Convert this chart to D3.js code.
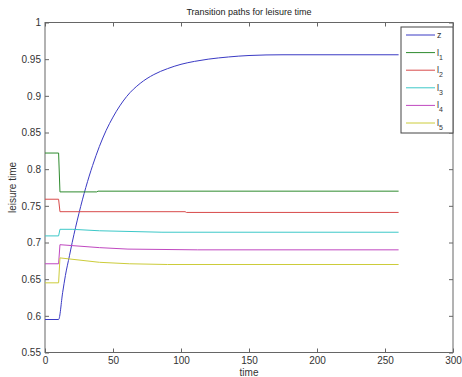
<!DOCTYPE html>
<html>
<head>
<meta charset="utf-8">
<script src="https://cdn.jsdelivr.net/npm/d3@7"></script>
<style>
  body { margin: 0; background: #fff; }
  text { font-family: "Liberation Sans", Arial, sans-serif; }
</style>
</head>
<body>
<svg id="chart" width="462" height="377"></svg>
<script>
// values
var zTime  = [0, 10, 13, 15, 18, 20, 25, 30, 35, 40, 45, 50, 60, 70, 80, 90, 100, 110, 120, 135, 150, 175, 200, 260];
var zValue = [0.595, 0.595, 0.632, 0.655, 0.682, 0.700, 0.740, 0.775, 0.805, 0.831, 0.853, 0.871, 0.899, 0.917, 0.929, 0.937, 0.943, 0.947, 0.950, 0.953, 0.955, 0.956, 0.956, 0.956];

var l1Time  = [0, 10, 11, 38, 39, 260];
var l1Value = [0.822, 0.822, 0.769, 0.769, 0.770, 0.770];
var l2Time  = [0, 10, 11, 103, 104, 260];
var l2Value = [0.759, 0.759, 0.742, 0.742, 0.741, 0.741];
var l3Time  = [0, 10, 11, 20, 40, 86, 260];
var l3Value = [0.709, 0.709, 0.718, 0.718, 0.716, 0.714, 0.714];
var l4Time  = [0, 10, 11, 40, 61, 112, 260];
var l4Value = [0.671, 0.671, 0.697, 0.693, 0.691, 0.690, 0.690];
var l5Time  = [0, 10, 11, 40, 62, 90, 260];
var l5Value = [0.645, 0.645, 0.679, 0.673, 0.671, 0.670, 0.670];

var seriesNames = ["z", "l1", "l2", "l3", "l4", "l5"];
var seriesColors = ["#3a3ac4", "#2e8b2e", "#d84a4a", "#3cc8c8", "#c048c0", "#cccc3a"];
var xTicks = [0, 50, 100, 150, 200, 250, 300];
var yTicks = [0.55, 0.6, 0.65, 0.7, 0.75, 0.8, 0.85, 0.9, 0.95, 1];

(function() {
  var plotLeft = 45, plotRight = 453, plotTop = 22.5, plotBottom = 352.5;
  var svg = d3.select("#chart");

  var x = d3.scaleLinear().domain([0, 300]).range([plotLeft, plotRight]);
  var y = d3.scaleLinear().domain([0.55, 1]).range([plotBottom, plotTop]);

  var axisColor = "#666";
  var labelColor = "#333";

  // box
  svg.append("rect")
    .attr("x", plotLeft).attr("y", plotTop)
    .attr("width", plotRight - plotLeft).attr("height", plotBottom - plotTop)
    .attr("fill", "#fff").attr("stroke", axisColor).attr("stroke-width", 1);

  function styleAxis(g) {
    g.select(".domain").remove();
    g.selectAll(".tick line").attr("stroke", axisColor);
    g.selectAll(".tick text").attr("fill", labelColor).style("font-size", "10px");
  }

  // ticks point inward on all four sides, labels only bottom and left
  svg.append("g").attr("transform", "translate(0," + plotBottom + ")")
    .call(d3.axisBottom(x).tickValues(xTicks).tickSizeInner(-4).tickSizeOuter(0).tickPadding(4).tickFormat(d3.format("d")))
    .call(styleAxis);
  svg.append("g").attr("transform", "translate(0," + plotTop + ")")
    .call(d3.axisTop(x).tickValues(xTicks).tickSizeInner(-4).tickSizeOuter(0).tickFormat(""))
    .call(styleAxis);
  svg.append("g").attr("transform", "translate(" + plotLeft + ",0)")
    .call(d3.axisLeft(y).tickValues(yTicks).tickSizeInner(-4).tickSizeOuter(0).tickPadding(4)
      .tickFormat(function(d) { return String(+d.toFixed(2)); }))
    .call(styleAxis);
  svg.append("g").attr("transform", "translate(" + plotRight + ",0)")
    .call(d3.axisRight(y).tickValues(yTicks).tickSizeInner(-4).tickSizeOuter(0).tickFormat(""))
    .call(styleAxis);

  // lines
  var series = [
    d3.zip(zTime, zValue),
    d3.zip(l1Time, l1Value),
    d3.zip(l2Time, l2Value),
    d3.zip(l3Time, l3Value),
    d3.zip(l4Time, l4Value),
    d3.zip(l5Time, l5Value)
  ];

  var smooth = d3.line()
    .x(function(d) { return x(d[0]); })
    .y(function(d) { return y(d[1]); })
    .curve(d3.curveMonotoneX);
  var straight = d3.line()
    .x(function(d) { return x(d[0]); })
    .y(function(d) { return y(d[1]); });

  series.forEach(function(s, i) {
    svg.append("path")
      .datum(s)
      .attr("fill", "none")
      .attr("stroke", seriesColors[i])
      .attr("stroke-width", 1)
      .attr("d", i === 0 ? smooth : straight);
  });

  // title and axis labels
  svg.append("text")
    .attr("x", (plotLeft + plotRight) / 2).attr("y", 15)
    .attr("text-anchor", "middle").attr("fill", "#222")
    .style("font-size", "9px")
    .text("Transition paths for leisure time");

  svg.append("text")
    .attr("x", (plotLeft + plotRight) / 2).attr("y", 376)
    .attr("text-anchor", "middle").attr("fill", labelColor)
    .style("font-size", "10px")
    .text("time");

  svg.append("text")
    .attr("transform", "translate(15.5," + (plotTop + plotBottom) / 2 + ") rotate(-90)")
    .attr("text-anchor", "middle").attr("fill", labelColor)
    .style("font-size", "10px")
    .text("leisure time");

  // legend
  var legend = svg.append("g").attr("transform", "translate(401,27)");
  legend.append("rect")
    .attr("width", 52).attr("height", 106)
    .attr("fill", "#fff").attr("stroke", "#444").attr("stroke-width", 1);

  var items = legend.selectAll(".item")
    .data(seriesNames).enter()
    .append("g")
    .attr("class", "item")
    .attr("transform", function(d, i) { return "translate(0," + (8 + i * 17.6) + ")"; });

  items.append("line")
    .attr("x1", 5).attr("x2", 34)
    .attr("stroke", function(d, i) { return seriesColors[i]; })
    .attr("stroke-width", 1);

  var labels = items.append("text")
    .attr("x", 36).attr("y", 3)
    .attr("fill", labelColor)
    .style("font-size", "9px");

  labels.each(function(d) {
    var t = d3.select(this);
    if (d === "z") {
      t.text("z");
    } else {
      t.append("tspan").text("l");
      t.append("tspan").attr("dy", 4).style("font-size", "7px").text(d.slice(1));
    }
  });
})();
</script>
</body>
</html>
